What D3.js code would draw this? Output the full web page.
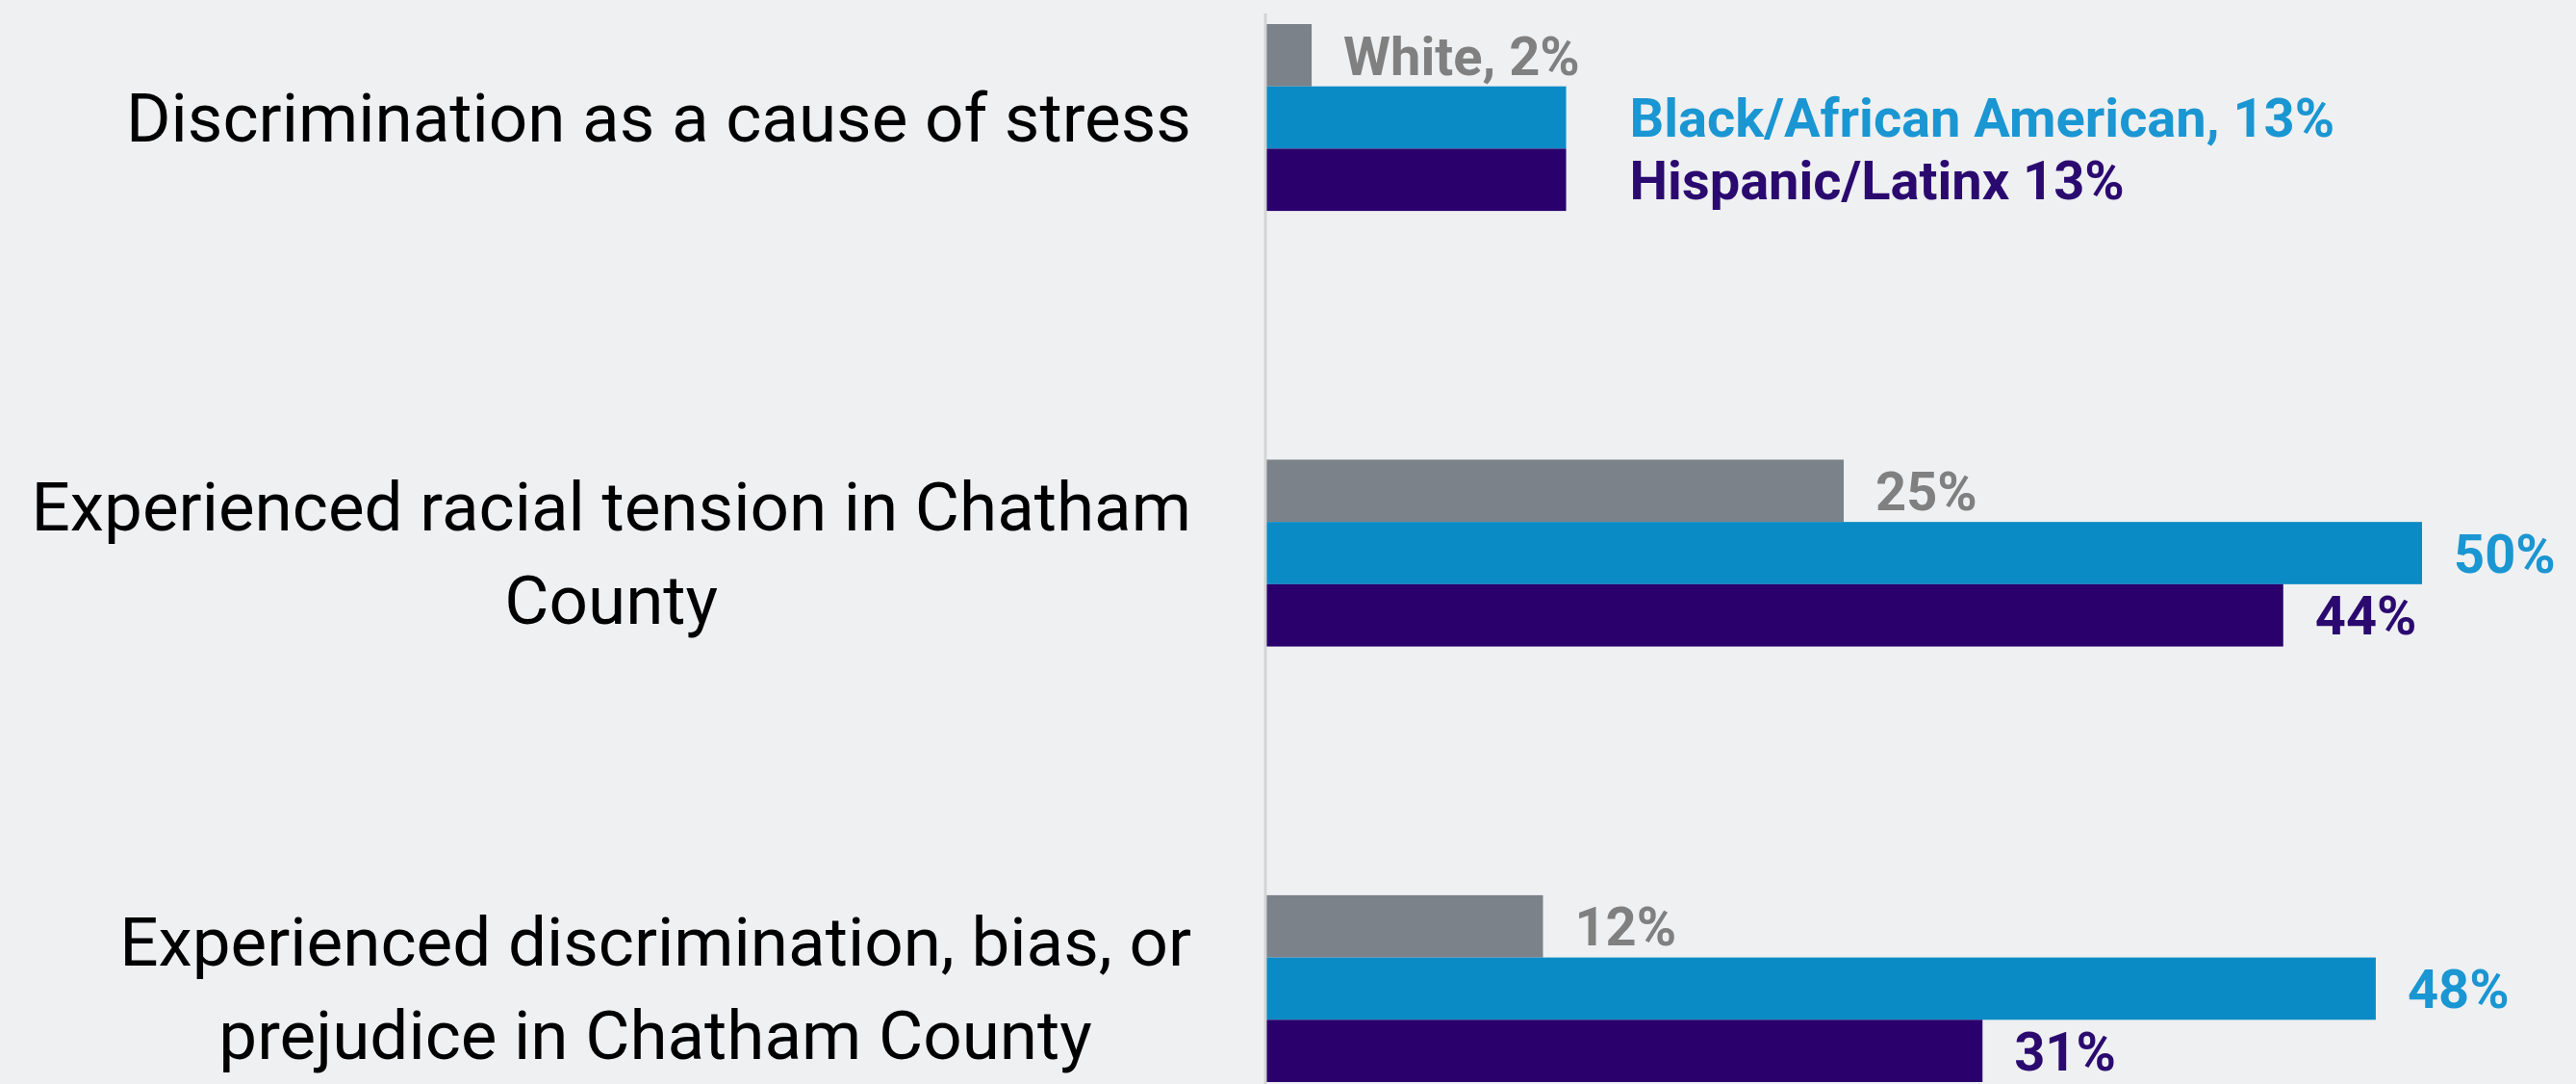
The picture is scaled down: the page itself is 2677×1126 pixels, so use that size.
<!DOCTYPE html>
<html>
<head>
<meta charset="utf-8">
<title>Discrimination and racial tension</title>
<script src="https://d3js.org/d3.v7.min.js"></script>
<style>
  html, body { margin: 0; padding: 0; background: #eff0f2; }
  svg { display: block; }
</style>
</head>
<body>
<div id="chart"></div>
<script>

var categories = [
    "Discrimination as a cause of stress",
    "Experienced racial tension in Chatham\nCounty",
    "Experienced discrimination, bias, or\nprejudice in Chatham County"
];
var series = ["White", "Black/African American", "Hispanic/Latinx"];
var white    = [2, 25, 12];
var black    = [13, 50, 48];
var hispanic = [13, 44, 31];
// first group carries the series name in its labels
var firstLabelPrefix = ["White, ", "Black/African American, ", "Hispanic/Latinx "];

var values = [white, black, hispanic];
var barColors  = ["#7b828a", "#0b8bc6", "#29006c"];
var textColors = ["#808080", "#1a96d2", "#2b0a70"];

var w = 2677, h = 1126;
var axisX = 1315;

var svg = d3.select("#chart").append("svg")
    .attr("width", w)
    .attr("height", h);

svg.append("rect")
    .attr("width", w)
    .attr("height", h)
    .attr("fill", "#eff0f2");

var x = d3.scaleLinear()
    .domain([0, 50])
    .range([axisX, axisX + 1202]);

var y = d3.scaleBand()
    .domain(d3.range(categories.length))
    .range([25, 1124])
    .paddingInner(0.571)
    .paddingOuter(0);

var ySub = d3.scaleBand()
    .domain(d3.range(series.length))
    .range([0, y.bandwidth()]);

// flatten to one record per bar
var bars = [];
categories.forEach(function(c, ci) {
    series.forEach(function(s, si) {
        bars.push({ci: ci, si: si, v: values[si][ci]});
    });
});

svg.selectAll(".bar")
    .data(bars)
    .enter()
    .append("rect")
    .attr("class", "bar")
    .attr("x", x(0))
    .attr("y", function(d) { return y(d.ci) + ySub(d.si); })
    .attr("width", function(d) { return x(d.v) - x(0); })
    .attr("height", ySub.bandwidth())
    .attr("fill", function(d) { return barColors[d.si]; });

// axis line
svg.append("line")
    .attr("x1", axisX).attr("x2", axisX)
    .attr("y1", 14).attr("y2", h)
    .attr("stroke", "#d4d4d4")
    .attr("stroke-width", 3);

// value labels
svg.selectAll(".val")
    .data(bars)
    .enter()
    .append("text")
    .attr("class", "val")
    .attr("x", function(d) {
        var gap = (d.ci === 0 && d.si > 0) ? 66 : 33;   // long labels were nudged out
        return x(d.v) + gap;
    })
    .attr("y", function(d) { return y(d.ci) + ySub(d.si) + ySub.bandwidth() / 2; })
    .attr("dy", "0.36em")
    .attr("font-family", "Roboto, 'Liberation Sans', sans-serif")
    .attr("font-weight", "bold")
    .attr("font-size", 56)
    .attr("fill", function(d) { return textColors[d.si]; })
    .text(function(d) {
        return (d.ci === 0 ? firstLabelPrefix[d.si] : "") + d.v + "%";
    });

// category labels: block right aligned to the axis, lines centred inside it
var labelRight = 1238, lineH = 97;
categories.forEach(function(c, ci) {
    var lines = c.split("\n");
    var g = svg.append("g");
    var cy = y(ci) + y.bandwidth() / 2;
    var t = g.selectAll("text")
        .data(lines)
        .enter()
        .append("text")
        .attr("font-family", "Roboto, 'Liberation Sans', sans-serif")
        .attr("font-size", 71)
        .attr("fill", "#000")
        .attr("text-anchor", "middle")
        .attr("y", function(d, i) { return cy + (i - (lines.length - 1) / 2) * lineH; })
        .attr("dy", "0.35em")
        .text(function(d) { return d; });
    var maxW = 0;
    t.each(function() { maxW = Math.max(maxW, this.getComputedTextLength()); });
    t.attr("x", labelRight - maxW / 2);
});

</script>
</body>
</html>
